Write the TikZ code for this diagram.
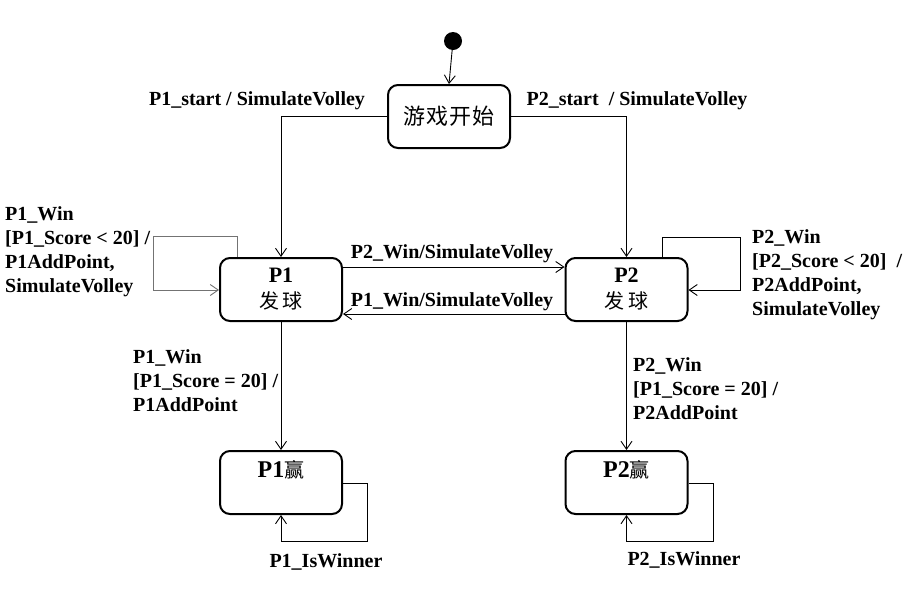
\documentclass[tikz,border=0pt]{standalone}
\usepackage{fontspec}
\setmainfont{Liberation Serif}
\newfontfamily\cjk{Noto Sans CJK SC}
\usetikzlibrary{arrows.meta}
\tikzset{
  state/.style={draw, line width=2pt, rounded corners=10pt, minimum width=122pt, minimum height=63pt, inner sep=0pt, align=center, font=\fontsize{22}{26}\selectfont\bfseries},
  winstate/.style={state, font=\fontsize{24}{20}\selectfont\bfseries},
  arr/.style={line width=0.9pt, -{Straight Barb[length=8pt,width=11pt,line width=0.9pt]}},
  lbl/.style={font=\fontsize{20}{24}\selectfont\bfseries, inner sep=0pt, align=left},
}
\begin{document}
\begin{tikzpicture}[x=1pt,y=-1pt]
\useasboundingbox (0,0) rectangle (924,606);
\node[circle, fill=black, minimum size=18pt, inner sep=0pt] (dot) at (453,41) {};
\node[state] (start) at (449,116.5) {{\cjk\mdseries 游\hspace{1pt}戏\hspace{1pt}开\hspace{1pt}始}};
\node[state] (p1) at (281,289.5) {P1\\{\cjk\mdseries\fontsize{20}{26}\selectfont 发\hspace{4pt}球}};
\node[state] (p2) at (626.5,289.5) {P2\\{\cjk\mdseries\fontsize{20}{26}\selectfont 发\hspace{4pt}球}};
\node[winstate] (p1w) at (281,482.5) {P1{\cjk\mdseries\fontsize{20}{20}\selectfont 赢}\\\strut};
\node[winstate] (p2w) at (626.5,482.5) {P2{\cjk\mdseries\fontsize{20}{20}\selectfont 赢}\\\strut};

\draw[arr] (dot) -- (start.north);
\draw[arr] (start.west) -| (p1.north);
\draw[arr] (start.east) -| (p2.north);
\draw[arr] (p1.east |- 0,267) -- (p2.west |- 0,267);
\draw[arr] (p2.west |- 0,314) -- (p1.east |- 0,314);
\draw[arr, draw=black!55] (p1.north -| 237,0) |- (153,236) |- (p1.west |- 0,290);
\draw[arr] (p2.north -| 662,0) |- (740,237) |- (p2.east |- 0,290);
\draw[arr] (p1.south) -- (p1w.north);
\draw[arr] (p2.south) -- (p2w.north);
\draw[arr] (p1w.east |- 0,483) -| (367,541) -| (p1w.south);
\draw[arr] (p2w.east |- 0,483) -| (713,541) -| (p2w.south);

\node[lbl, anchor=base] (l1) at (257,105.6) {P1\_start / SimulateVolley};
\node[lbl, anchor=base] (l2) at (637,105.6) {P2\_start \ / SimulateVolley};
\node[lbl, anchor=base] (l3) at (452,258.6) {P2\_Win/SimulateVolley};
\node[lbl, anchor=base] (l4) at (452,306.6) {P1\_Win/SimulateVolley};
\node[lbl, anchor=north west] (l5) at (5,206.4) {P1\_Win\\{[}P1\_Score < 20] /\\P1AddPoint,\\SimulateVolley};
\node[lbl, anchor=north west] (l6) at (752,229.4) {P2\_Win\\{[}P2\_Score < 20] \ /\\P2AddPoint,\\SimulateVolley};
\node[lbl, anchor=north west] (l7) at (133,349.4) {P1\_Win\\{[}P1\_Score = 20] /\\P1AddPoint};
\node[lbl, anchor=north west] (l8) at (633,357.4) {P2\_Win\\{[}P1\_Score = 20] /\\P2AddPoint};
\node[lbl, anchor=base] (l9) at (326,567.6) {P1\_IsWinner};
\node[lbl, anchor=base] (l10) at (684,565.6) {P2\_IsWinner};
\end{tikzpicture}
\end{document}
